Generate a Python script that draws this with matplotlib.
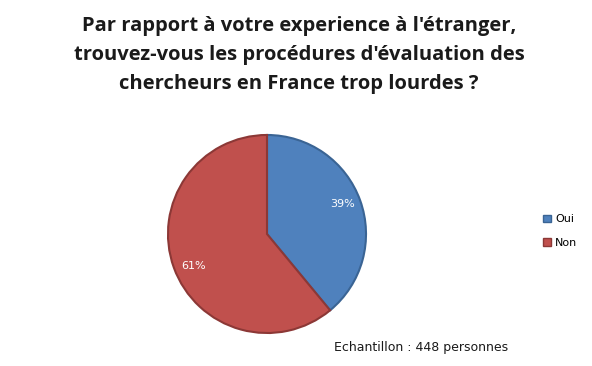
import matplotlib
matplotlib.use('Agg')
from matplotlib import pyplot as plt
from matplotlib.patches import Patch

labels = ['Oui', 'Non']
values = [39, 61]
colors = ['#4F81BD', '#C0504D']
edges = ['#3A6494', '#8C3836']

title = ("Par rapport à votre experience à l'étranger,\n"
         "trouvez-vous les procédures d'évaluation des\n"
         "chercheurs en France trop lourdes ?")
note = 'Echantillon : 448 personnes'

W, H = 592, 366
fig = plt.figure(figsize=(W / 100, H / 100), dpi=100)
fig.patch.set_facecolor('white')

# pie: centre ~ (267, 234) px, radius ~ 101 px
cx, cy, r = 267, 234, 101
ax = fig.add_axes([(cx - r) / W, (H - cy - r) / H, 2 * r / W, 2 * r / H])
wedges, _ = ax.pie(values, colors=colors, startangle=90, counterclock=False,
                   radius=1.0, wedgeprops=dict(linewidth=1.5))
for w, e in zip(wedges, edges):
    w.set_edgecolor(e)
ax.set_xlim(-1.02, 1.02)
ax.set_ylim(-1.02, 1.02)
ax.set_aspect('equal')
ax.axis('off')

# value labels
ax.text(0.76, 0.3, '39%', color='white', fontsize=8, ha='center', va='center',
        family='DejaVu Sans')
ax.text(-0.74, -0.32, '61%', color='white', fontsize=8, ha='center', va='center',
        family='DejaVu Sans')

fig.text(299 / W, 1 - 55 / H, title, ha='center', va='center', fontsize=14.5,
         fontweight='bold', linespacing=1.6, color='#1a1a1a', family='Open Sans')

handles = [Patch(facecolor=c, edgecolor=e, label=l) for c, e, l in zip(colors, edges, labels)]
fig.legend(handles=handles, loc='center left', bbox_to_anchor=(533 / W, 1 - 231 / H),
           frameon=False, fontsize=8, handlelength=0.7, handleheight=0.7,
           handletextpad=0.4, labelspacing=1.2)

fig.text(421 / W, 1 - 347 / H, note, ha='center', va='center', fontsize=9,
         color='#1a1a1a')

fig.savefig('out.png', dpi=100)
